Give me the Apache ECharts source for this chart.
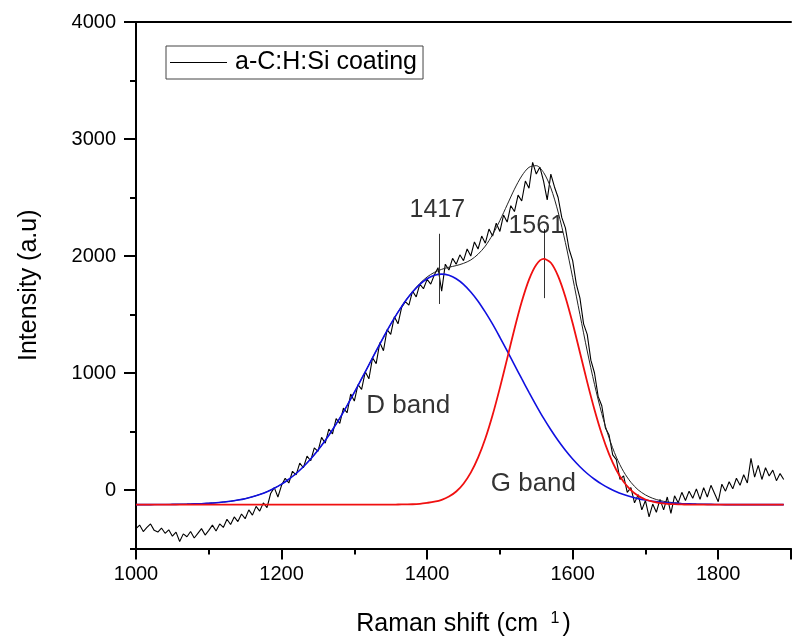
<!DOCTYPE html>
<html>
<head>
<meta charset="utf-8">
<script src="https://cdn.jsdelivr.net/npm/echarts@6/dist/echarts.min.js"></script>
<style>
html,body{margin:0;padding:0;background:#fff;}
#chart{width:794px;height:642px;}
</style>
</head>
<body>
<div id="chart"></div>
<script>
// ---- data ----
// measured spectrum, sampled every 5 cm-1 starting at 1000
const spectrumStart = 1000;
const spectrumStep = 5;
const spectrum = [
 -330,-300,-355,-320,-290,-345,-360,-325,-370,-340,
 -395,-360,-440,-375,-400,-355,-410,-370,-330,-385,
 -345,-300,-350,-290,-320,-250,-295,-230,-270,-205,
 -245,-170,-215,-140,-180,-110,-150,-30,20,-60,
 40,100,60,160,130,230,190,290,250,360,
 330,450,400,520,480,610,570,700,660,820,
 760,900,860,1010,950,1130,1080,1260,1190,1370,
 1330,1480,1420,1560,1610,1580,1700,1650,1760,1720,
 1800,1760,1840,1900,1700,1930,1880,1980,1930,2010,
 1960,2060,2000,2120,2060,2170,2110,2230,2170,2280,
 2210,2350,2290,2430,2380,2520,2470,2640,2580,2800,
 2700,2760,2640,2480,2700,2590,2500,2330,2240,2060,
 1960,1760,1640,1420,1330,1110,1000,800,720,530,
 470,300,260,90,120,-20,20,-110,-40,-170,
 -90,-230,-120,-190,-80,-170,-60,-200,-50,-110,
 -20,-90,-10,-70,10,-80,20,-60,40,-30,
 -100,50,-10,70,10,100,40,130,60,270,
 110,210,90,190,120,170,80,140,90
];
// fitted curves, sampled every 10 cm-1 starting at 1000
const fitStart = 1000;
const fitStep = 10;
const dBand = [
 -125,-125,-125,-124,-124,-123,-122,-121,-119,-117,
 -113,-109,-103,-96,-86,-74,-58,-38,-15,15,
 50,92,141,199,265,340,423,515,614,722,
 835,951,1070,1189,1305,1417,1520,1614,1693,1758,
 1806,1835,1845,1835,1806,1758,1693,1614,1520,1417,
 1305,1189,1070,951,835,722,614,515,423,340,
 265,199,141,92,50,15,-15,-38,-58,-74,
 -86,-96,-103,-109,-113,-117,-119,-121,-122,-123,
 -124,-125,-125,-125,-125,-125,-125,-125,-125,-125
];
const gBand = [
 -125,-125,-125,-125,-125,-125,-125,-125,-125,-125,
 -125,-125,-125,-125,-125,-125,-125,-125,-125,-125,
 -125,-125,-125,-125,-125,-125,-125,-125,-125,-125,
 -125,-125,-125,-125,-125,-125,-124,-123,-122,-118,
 -110,-100,-84,-56,-13,54,148,276,440,641,
 873,1123,1376,1608,1798,1925,1975,1942,1828,1650,
 1425,1175,922,686,478,306,171,70,-1,-50,
 -81,-100,-112,-118,-121,-123,-125,-125,-125,-125,
 -125,-125,-125,-125,-125,-125,-125,-125,-125,-125
];
const fitSum = [
 -125,-125,-125,-124,-124,-123,-122,-121,-119,-117,
 -113,-109,-103,-96,-86,-74,-58,-38,-15,15,
 50,92,141,199,265,340,423,515,614,722,
 835,951,1070,1189,1305,1417,1521,1616,1696,1765,
 1821,1860,1886,1904,1918,1937,1966,2015,2085,2183,
 2303,2437,2571,2684,2758,2772,2714,2582,2376,2115,
 1815,1499,1188,903,653,446,281,157,66,1,
 -42,-71,-90,-102,-109,-115,-119,-121,-122,-123,
 -124,-125,-125,-125,-125,-125,-125,-125,-125,-125
];
const peakNames = ['1417', '1561'];
const peakX = [1417, 1561];
const peakLineLow = [1590, 1640];
const peakLineHigh = [2190, 2230];
const peakLabelAt = [[1414, 2390], [1550, 2255]];
const bandNames = ['D band', 'G band'];
const bandLabelAt = [[1374, 717], [1546, 51]];
const yMajorTicks = [0, 1000, 2000, 3000, 4000];
const legendName = 'a-C:H:Si coating';

// ---- build ----
const spectrumPts = spectrum.map((v, i) => [spectrumStart + i * spectrumStep, v]);
const toPts = arr => arr.map((v, i) => [fitStart + i * fitStep, v]);
const FONT = "'Liberation Sans', Arial, sans-serif";

const chart = echarts.init(document.getElementById('chart'), null, {renderer: 'canvas'});
const annotations = peakNames.map((n, i) => ({value: peakLabelAt[i], label: {formatter: n}}))
  .concat(bandNames.map((n, i) => ({value: bandLabelAt[i], label: {formatter: n, fontSize: 26}})));

chart.setOption({
  animation: false,
  backgroundColor: '#ffffff',
  textStyle: {fontFamily: FONT},
  grid: {left: 136, top: 22, bottom: 87, right: -8, containLabel: false},
  legend: {
    data: [legendName],
    left: 166, top: 46,
    padding: [4, 6, 4, 4],
    icon: 'rect', itemWidth: 57, itemHeight: 1,
    borderColor: '#444', borderWidth: 1,
    textStyle: {fontSize: 25, lineHeight: 22, color: '#000', fontFamily: FONT, padding: [0, 0, 0, 3]}
  },
  xAxis: [{
    type: 'value', min: 1000, max: 1900, interval: 200,
    axisLine: {onZero: false, lineStyle: {color: '#000', width: 2}},
    axisTick: {show: true, inside: false, length: 11, lineStyle: {color: '#000', width: 2}},
    minorTick: {show: true, splitNumber: 2, length: 6, lineStyle: {color: '#000', width: 2}},
    axisLabel: {fontSize: 20, color: '#000', margin: 16, fontFamily: FONT,
      formatter: v => (v >= 1900 ? '' : String(v))},
    splitLine: {show: false},
    name: 'Raman shift (cm{sup| 1})',
    nameLocation: 'middle', nameGap: 62,
    nameTextStyle: {fontSize: 25, color: '#000', fontFamily: FONT,
      rich: {sup: {fontSize: 16, verticalAlign: 'top', padding: [0, 3, 12, 8], color: '#000', fontFamily: FONT}}}
  }, {
    type: 'value', min: 1000, max: 1900, position: 'top',
    axisLine: {show: true, onZero: false, lineStyle: {color: '#000', width: 2}},
    axisTick: {show: false}, axisLabel: {show: false}, splitLine: {show: false}
  }],
  yAxis: [{
    type: 'value', min: -500, max: 4000, interval: 500,
    axisLine: {show: true, onZero: false, lineStyle: {color: '#000', width: 2}},
    axisTick: {show: true, inside: false, length: 6, lineStyle: {color: '#000', width: 2}},
    axisLabel: {fontSize: 20, color: '#000', margin: 20, fontFamily: FONT,
      formatter: v => (v % 1000 === 0 ? String(v) : '')},
    splitLine: {show: false},
    name: 'Intensity (a.u)', nameLocation: 'middle', nameGap: 94,
    nameTextStyle: {fontSize: 25, color: '#000', fontFamily: FONT}
  }, {
    type: 'value', min: -500, max: 4000, interval: 500, position: 'left',
    axisLine: {show: false},
    axisTick: {show: true, inside: false, length: 12, customValues: yMajorTicks, lineStyle: {color: '#000', width: 2}},
    axisLabel: {show: false}, splitLine: {show: false}
  }],
  series: [{
    name: legendName, type: 'line', data: spectrumPts, showSymbol: false, symbol: 'none',
    lineStyle: {color: '#000', width: 1.1}, itemStyle: {color: '#000'}, z: 2
  }, {
    name: 'fit', type: 'line', data: toPts(fitSum), symbol: 'none', smooth: 0.3,
    lineStyle: {color: '#222', width: 1}, z: 3
  }, {
    name: 'D', type: 'line', data: toPts(dBand), symbol: 'none', smooth: 0.3,
    lineStyle: {color: '#1010e0', width: 1.6}, z: 4
  }, {
    name: 'G', type: 'line', data: toPts(gBand), symbol: 'none', smooth: 0.3,
    lineStyle: {color: '#f01010', width: 1.8}, z: 5,
    markLine: {
      silent: true, symbol: ['none', 'none'], label: {show: false},
      lineStyle: {color: '#333', width: 1, type: 'solid'},
      data: peakX.map((x, i) => [{coord: [x, peakLineLow[i]]}, {coord: [x, peakLineHigh[i]]}])
    }
  }, {
    name: 'labels', type: 'scatter', data: annotations, symbolSize: 0, z: 6,
    label: {show: true, position: 'inside', color: '#000', fontSize: 25, fontFamily: FONT}
  }]
});
</script>
</body>
</html>
